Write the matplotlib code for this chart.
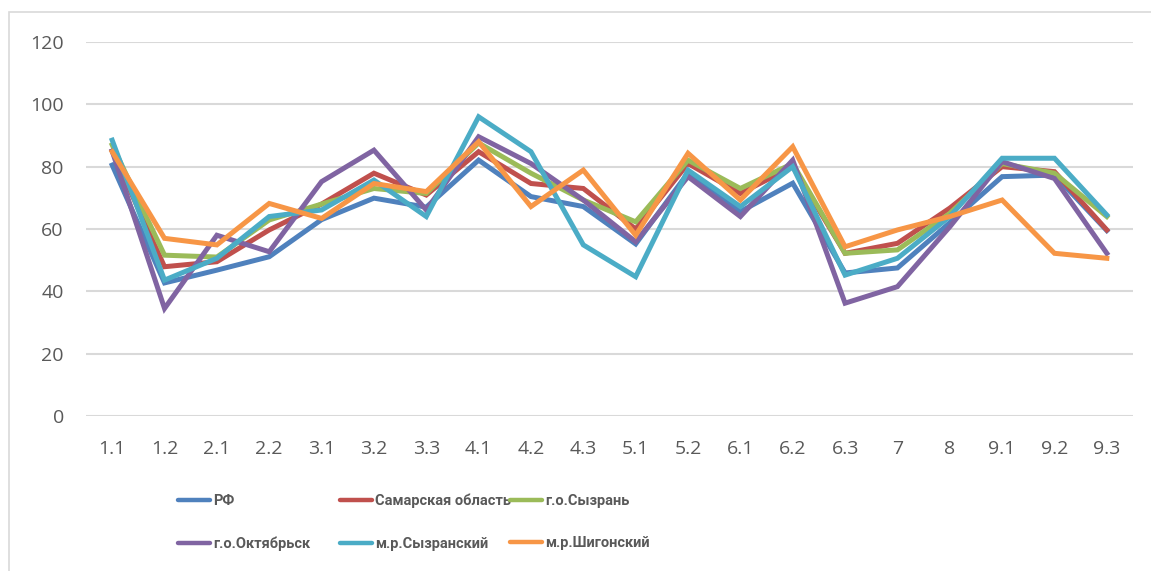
import matplotlib
matplotlib.use("Agg")
import matplotlib.pyplot as plt
from matplotlib.lines import Line2D
from matplotlib.patches import Rectangle

categories = ["1.1", "1.2", "2.1", "2.2", "3.1", "3.2", "3.3", "4.1", "4.2", "4.3",
              "5.1", "5.2", "6.1", "6.2", "6.3", "7", "8", "9.1", "9.2", "9.3"]

rf = [80.5, 42.7, 46.8, 51.1, 63, 69.9, 67, 82.1, 70.4, 67.2,
      55.2, 78, 65.6, 74.7, 45.9, 47.5, 62, 76.8, 77.3, 59.5]
samara = [85, 47.9, 49.5, 59.7, 68, 77.9, 70.9, 84.8, 74.6, 73,
          60, 81, 71.4, 80, 52.2, 55.4, 66.7, 80, 78.4, 59.7]
syzran = [87, 51.6, 51, 62.9, 68, 73, 71.4, 87.6, 77.9, 69.3,
          62.3, 82.1, 73, 81, 52.2, 53.3, 65, 81, 77.9, 64]
oktyabrsk = [85, 34.5, 58, 52.7, 75.2, 85.3, 66.1, 89.6, 81, 69.3,
             55.9, 76.8, 64, 82.1, 36.2, 41.5, 60.7, 81.6, 76.2, 52.2]
syzran_mr = [88.5, 43.6, 50.6, 64, 66.1, 75.7, 64, 96, 84.8, 54.9,
             44.7, 78.9, 67.2, 80, 45.2, 50.6, 64, 82.7, 82.7, 64.5]
shigony = [84.8, 57, 54.9, 68.2, 63.4, 74.6, 72, 88, 67.2, 78.9,
           58, 84.3, 69.3, 86.4, 54.3, 59.7, 64, 69.3, 52.2, 50.6]

names = ["РФ", "Самарская область", "г.о.Сызрань",
         "г.о.Октябрьск", "м.р.Сызранский", "м.р.Шигонский"]
series = [rf, samara, syzran, oktyabrsk, syzran_mr, shigony]
colors = ["#4F81BD", "#C0504D", "#9BBB59", "#8064A2", "#4BACC6", "#F79646"]

W, H = 1151, 571
fig = plt.figure(figsize=(W / 100, H / 100), dpi=100)
ax = fig.add_axes([86 / W, 1 - 416 / H, (1133 - 86) / W, (416 - 42) / H])

x = range(len(categories))
for vals, c in zip(series, colors):
    ax.plot(x, vals, color=c, linewidth=3.6, solid_joinstyle="miter", zorder=3)

ax.set_xlim(-0.5, len(categories) - 0.5)
ax.set_ylim(0, 120)
ax.set_yticks(range(0, 121, 20))
ax.set_xticks(list(x))
ax.set_xticklabels(categories)
ax.grid(axis="y", color="#D9D9D9", linewidth=1.5)
ax.set_axisbelow(True)
for s in ax.spines.values():
    s.set_visible(False)
ax.tick_params(length=0, labelsize=14, labelcolor="#595959")
ax.tick_params(axis="x", pad=17.5)
ax.tick_params(axis="y", pad=16)
for lab in ax.get_xticklabels() + ax.get_yticklabels():
    lab.set_fontfamily("Open Sans")

# outer chart border
fig.add_artist(Rectangle((9 / W, -0.1), 1.2, 1 - 12 / H + 0.1, transform=fig.transFigure,
                         fill=False, edgecolor="#D9D9D9", linewidth=1.2))

# legend: three columns, two rows
cols = [[0, 3], [1, 4], [2, 5]]
col_x = [178, 340, 510]
for ci, idx in enumerate(cols):
    handles = [Line2D([], [], color=colors[i], linewidth=3.2, solid_capstyle="round") for i in idx]
    leg = fig.legend(handles, [names[i] for i in idx], loc="upper left",
                     bbox_to_anchor=(col_x[ci] / W, 1 - 494 / H), frameon=False,
                     prop={"family": "Roboto", "weight": "bold", "size": 10.5},
                     handlelength=2.2, handletextpad=0.2, labelspacing=1.95,
                     borderpad=0, borderaxespad=0)
    for t in leg.get_texts():
        t.set_color("#595959")

fig.savefig("out.png", dpi=100)
